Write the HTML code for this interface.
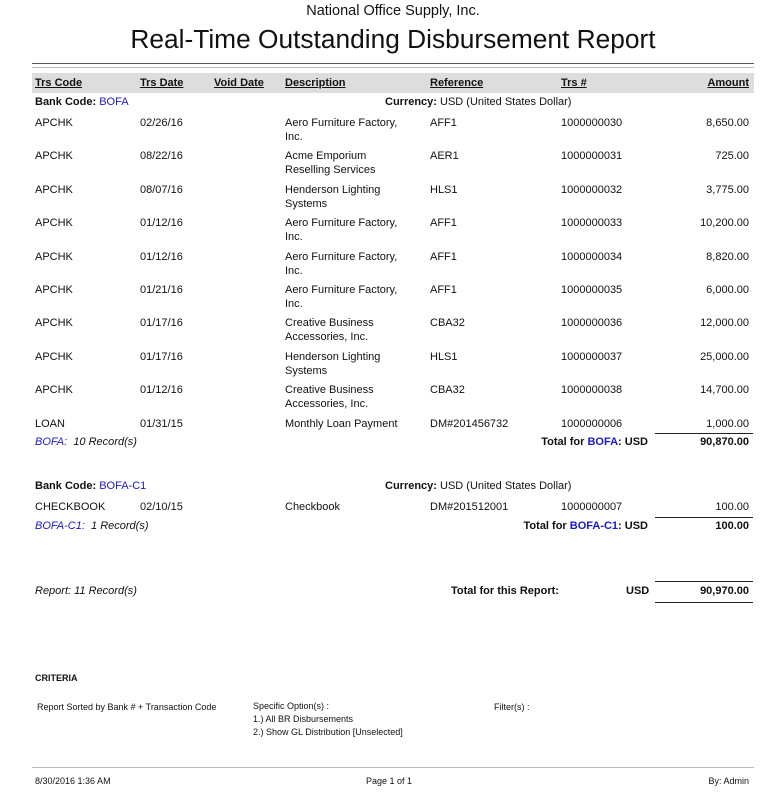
<!DOCTYPE html>
<html><head><meta charset="utf-8"><style>
body{margin:0;width:771px;height:804px;background:#fff;position:relative;font-family:"Liberation Sans",sans-serif;color:#111;overflow:hidden}
.t{position:absolute;font-size:11px;white-space:nowrap;line-height:14px}
.r{text-align:right}
.b{font-weight:bold}
.u{text-decoration:underline}
.bl{color:#1a1acc}
.i{font-style:italic}
.ln{position:absolute;height:1px;background:#222}
.s{font-size:9px}
</style></head><body>
<div class="t" style="left:0;width:786px;text-align:center;top:3px;font-size:14.5px;line-height:16px">National Office Supply, Inc.</div>
<div class="t" style="left:0;width:786px;text-align:center;top:24px;font-size:26.3px;line-height:30px">Real-Time Outstanding Disbursement Report</div>
<div class="ln" style="left:32px;width:722px;top:63px;background:#555"></div>
<div class="ln" style="left:32px;width:722px;top:67px;background:#bbb"></div>
<div style="position:absolute;left:32px;width:722px;top:73px;height:20px;background:#ddd"></div>
<div class="t b u" style="left:35px;top:76px">Trs Code</div>
<div class="t b u" style="left:140px;top:76px">Trs Date</div>
<div class="t b u" style="left:214px;top:76px">Void Date</div>
<div class="t b u" style="left:285px;top:76px">Description</div>
<div class="t b u" style="left:430px;top:76px">Reference</div>
<div class="t b u" style="left:561px;top:76px">Trs #</div>
<div class="t b u r" style="left:649px;width:100px;top:76px">Amount</div>

<div class="t" style="left:35px;top:95px"><b>Bank Code:</b> <span class="bl">BOFA</span></div>
<div class="t" style="left:385px;top:95px"><b>Currency:</b> USD (United States Dollar)</div>

<div id="rows"></div>
<script>
var d=[["APCHK","02/26/16","Aero Furniture Factory,<br>Inc.","AFF1","1000000030","8,650.00"],
["APCHK","08/22/16","Acme Emporium<br>Reselling Services","AER1","1000000031","725.00"],
["APCHK","08/07/16","Henderson Lighting<br>Systems","HLS1","1000000032","3,775.00"],
["APCHK","01/12/16","Aero Furniture Factory,<br>Inc.","AFF1","1000000033","10,200.00"],
["APCHK","01/12/16","Aero Furniture Factory,<br>Inc.","AFF1","1000000034","8,820.00"],
["APCHK","01/21/16","Aero Furniture Factory,<br>Inc.","AFF1","1000000035","6,000.00"],
["APCHK","01/17/16","Creative Business<br>Accessories, Inc.","CBA32","1000000036","12,000.00"],
["APCHK","01/17/16","Henderson Lighting<br>Systems","HLS1","1000000037","25,000.00"],
["APCHK","01/12/16","Creative Business<br>Accessories, Inc.","CBA32","1000000038","14,700.00"],
["LOAN","01/31/15","Monthly Loan Payment","DM#201456732","1000000006","1,000.00"]];
var h="";
d.forEach(function(r,i){var y=Math.round(116+i*33.4);
h+='<div class="t" style="left:35px;top:'+y+'px">'+r[0]+'</div><div class="t" style="left:140px;top:'+y+'px">'+r[1]+'</div><div class="t" style="left:285px;top:'+y+'px">'+r[2]+'</div><div class="t" style="left:430px;top:'+y+'px">'+r[3]+'</div><div class="t" style="left:561px;top:'+y+'px">'+r[4]+'</div><div class="t r" style="left:649px;width:100px;top:'+y+'px">'+r[5]+'</div>';});
document.getElementById("rows").innerHTML=h;
</script>
<div class="ln" style="left:655px;width:98px;top:433px"></div>
<div class="t i" style="left:35px;top:435px"><span class="bl">BOFA:</span>&nbsp; 10 Record(s)</div>
<div class="t b r" style="left:400px;width:248px;top:435px">Total for <span class="bl">BOFA</span>: USD</div>
<div class="t b r" style="left:649px;width:100px;top:435px">90,870.00</div>

<div class="t" style="left:35px;top:479px"><b>Bank Code:</b> <span class="bl">BOFA-C1</span></div>
<div class="t" style="left:385px;top:479px"><b>Currency:</b> USD (United States Dollar)</div>
<div class="t" style="left:35px;top:500px">CHECKBOOK</div>
<div class="t" style="left:140px;top:500px">02/10/15</div>
<div class="t" style="left:285px;top:500px">Checkbook</div>
<div class="t" style="left:430px;top:500px">DM#201512001</div>
<div class="t" style="left:561px;top:500px">1000000007</div>
<div class="t r" style="left:649px;width:100px;top:500px">100.00</div>
<div class="ln" style="left:655px;width:98px;top:517px"></div>
<div class="t i" style="left:35px;top:519px"><span class="bl">BOFA-C1:</span>&nbsp; 1 Record(s)</div>
<div class="t b r" style="left:400px;width:248px;top:519px">Total for <span class="bl">BOFA-C1</span>: USD</div>
<div class="t b r" style="left:649px;width:100px;top:519px">100.00</div>

<div class="ln" style="left:655px;width:98px;top:581px"></div>
<div class="t i" style="left:35px;top:584px">Report: 11 Record(s)</div>
<div class="t b" style="left:451px;top:584px">Total for this Report:</div>
<div class="t b" style="left:626px;top:584px">USD</div>
<div class="t b r" style="left:649px;width:100px;top:584px">90,970.00</div>
<div class="ln" style="left:655px;width:98px;top:602px"></div>

<div class="t b s" style="left:35px;top:671px">CRITERIA</div>
<div class="t s" style="left:37px;top:700px">Report Sorted by Bank # + Transaction Code</div>
<div class="t s" style="left:253px;top:700px;line-height:13px">Specific Option(s) :<br>1.) All BR Disbursements<br>2.) Show GL Distribution [Unselected]</div>
<div class="t s" style="left:494px;top:700px">Filter(s) :</div>
<div class="ln" style="left:32px;width:722px;top:767px;background:#bbb"></div>
<div class="t s" style="left:35px;top:774px">8/30/2016 1:36 AM</div>
<div class="t s" style="left:366px;top:774px">Page 1 of 1</div>
<div class="t s r" style="left:600px;width:149px;top:774px">By: Admin</div>
</body></html>
